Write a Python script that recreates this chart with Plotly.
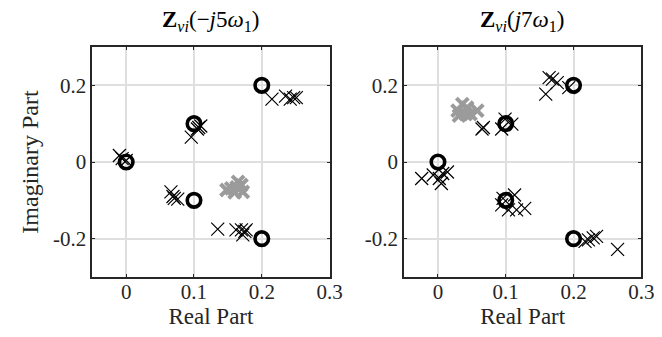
import plotly.graph_objects as go

# ---------------- data ----------------
# true values (circles), same for both panels
true_re = [0.0, 0.1, 0.1, 0.2, 0.2]
true_im = [0.0, 0.1, -0.1, 0.2, -0.2]

# left panel Z_vi(-j5w1): estimates (black x)
left_est_re = [-0.010, -0.006, 0.000, 0.096, 0.105, 0.107, 0.110,
               0.215, 0.235, 0.242, 0.247, 0.251,
               0.066, 0.069, 0.071, 0.076,
               0.135, 0.162, 0.170, 0.172, 0.175, 0.177]
left_est_im = [0.017, 0.009, 0.004, 0.065, 0.086, 0.090, 0.094,
               0.164, 0.172, 0.164, 0.168, 0.168,
               -0.078, -0.090, -0.095, -0.097,
               -0.175, -0.177, -0.177, -0.190, -0.181, -0.177]
# left panel: outlier estimates (grey x)
left_grey_re = [0.148, 0.155, 0.165, 0.170, 0.172, 0.160, 0.163]
left_grey_im = [-0.073, -0.069, -0.052, -0.060, -0.078, -0.079, -0.066]

# right panel Z_vi(j7w1)
right_est_re = [-0.024, -0.007, 0.005, 0.007, 0.014, 0.002,
                0.065, 0.067, 0.094, 0.099, 0.109,
                0.159, 0.164, 0.169, 0.176, 0.193,
                0.094, 0.104, 0.113, 0.116, 0.128, 0.096,
                0.217, 0.222, 0.229, 0.234, 0.265]
right_est_im = [-0.043, -0.034, -0.056, -0.030, -0.026, -0.043,
                0.086, 0.090, 0.086, 0.112, 0.099,
                0.177, 0.220, 0.216, 0.207, 0.194,
                -0.112, -0.125, -0.086, -0.125, -0.121, -0.095,
                -0.207, -0.203, -0.198, -0.194, -0.228]
right_grey_re = [0.029, 0.036, 0.043, 0.048, 0.058, 0.031, 0.041]
right_grey_im = [0.134, 0.151, 0.142, 0.125, 0.134, 0.121, 0.125]

titles = ["<b>Z</b><sub><i>vi</i></sub>(\u2212<i>j</i>5<i>\u03c9</i><sub>1</sub>)",
          "<b>Z</b><sub><i>vi</i></sub>(<i>j</i>7<i>\u03c9</i><sub>1</sub>)"]
x_ticks = [0, 0.1, 0.2, 0.3]
x_ticktext = ["0", "0.1", "0.2", "0.3"]
y_ticks = [-0.2, 0, 0.2]
y_ticktext = ["-0.2", "0", "0.2"]

# ---------------- figure ----------------
W, H = 662, 337
FONT = "Liberation Serif"
fig = go.Figure()

panels = [
    ("x", "y", left_grey_re, left_grey_im, left_est_re, left_est_im),
    ("x2", "y2", right_grey_re, right_grey_im, right_est_re, right_est_im),
]
for xa, ya, gre, gim, ere, eim in panels:
    fig.add_trace(go.Scatter(x=gre, y=gim, xaxis=xa, yaxis=ya, mode="markers",
                             marker=dict(symbol="x-thin-open", size=12, color="#9b9b9b",
                                         line=dict(color="#9b9b9b", width=4)),
                             showlegend=False, hoverinfo="skip"))
    fig.add_trace(go.Scatter(x=ere, y=eim, xaxis=xa, yaxis=ya, mode="markers",
                             marker=dict(symbol="x-thin-open", size=13, color="black",
                                         line=dict(color="black", width=1.2)),
                             showlegend=False, hoverinfo="skip"))
    fig.add_trace(go.Scatter(x=true_re, y=true_im, xaxis=xa, yaxis=ya, mode="markers",
                             marker=dict(symbol="circle-open", size=13.5, color="black",
                                         line=dict(color="black", width=3.6)),
                             showlegend=False, hoverinfo="skip"))

x_dom = [[86 / W, 328 / W], [404 / W, 646 / W]]
y_dom = [1 - 269 / H, 1 - 39 / H]

common = dict(showline=True, linecolor="#262626", linewidth=1.8, mirror="ticks",
              ticks="inside", ticklen=3, tickwidth=1.2, tickcolor="#262626",
              showgrid=True, gridcolor="#dfdfdf", gridwidth=1.8, zeroline=False,
              tickfont=dict(family=FONT, size=21, color="#262626"))

for i in range(2):
    sx = "" if i == 0 else "2"
    fig.update_layout(**{
        "xaxis" + sx: dict(common, domain=x_dom[i], range=[-0.05, 0.3],
                           tickvals=x_ticks, ticktext=x_ticktext,
                           anchor="y" + sx, ticklabelstandoff=-5,
                           title=dict(text="Real Part", standoff=2,
                                      font=dict(family=FONT, size=23, color="#262626"))),
        "yaxis" + sx: dict(common, domain=y_dom, range=[-0.3, 0.3],
                           tickvals=y_ticks, ticktext=y_ticktext,
                           anchor="x" + sx),
    })
    xc = (x_dom[i][0] + x_dom[i][1]) / 2
    fig.add_annotation(text=titles[i], x=xc, y=1 - 13 / H, xref="paper", yref="paper",
                       showarrow=False, xanchor="center", yanchor="middle",
                       font=dict(family=FONT, size=23, color="black"))

fig.update_layout(yaxis_title=dict(text="Imaginary Part", standoff=8,
                                   font=dict(family=FONT, size=24, color="#262626")))

fig.update_layout(width=W, height=H, margin=dict(l=0, r=0, t=0, b=0),
                  paper_bgcolor="white", plot_bgcolor="white")

fig.write_html("out.html")
